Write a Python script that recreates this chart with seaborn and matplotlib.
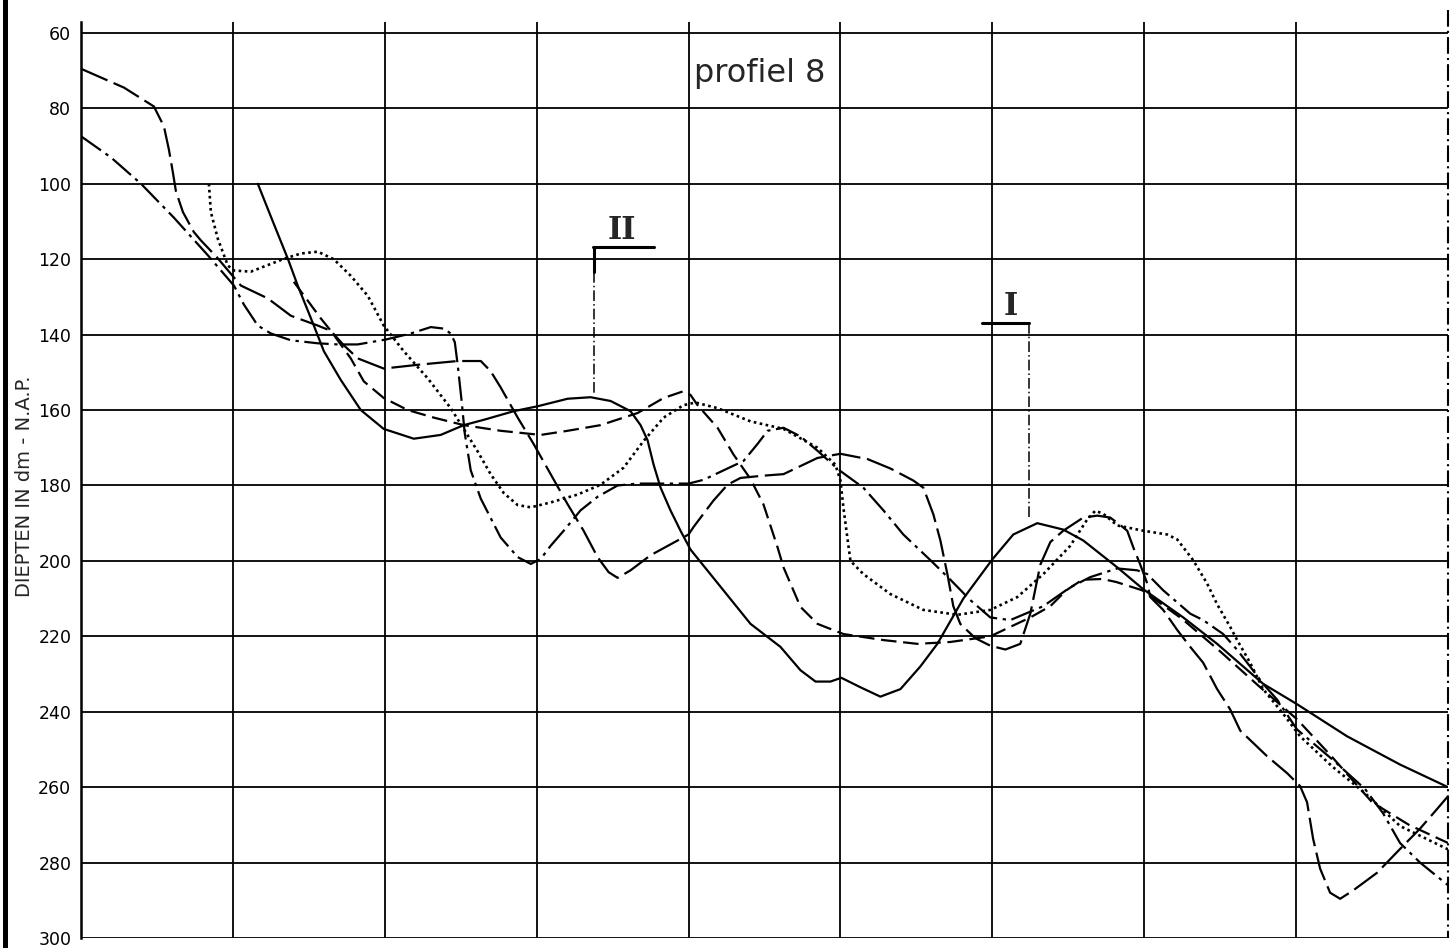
import matplotlib
matplotlib.use("Agg")
import matplotlib.pyplot as plt
from matplotlib.lines import Line2D
import seaborn as sns

sns.set_style("white")
plt.rcParams["font.family"] = ["DejaVu Sans"]

# Afstand langs het profiel (raster om de 100) en diepte in dm t.o.v. N.A.P.
afstand_doorgetrokken = [116.4, 126.3, 136.2, 142.7, 153.3, 159.9, 171.0, 184.2, 199.3, 219.1,
                         236.8, 252.0, 265.1, 284.9, 300.6, 320.4, 335.5, 348.7, 361.8, 368.4,
                         373.0, 377.0, 381.6, 388.1, 394.7, 401.3, 440.8, 460.5, 473.7, 483.6,
                         493.4, 500.6, 513.1, 526.3, 539.5, 552.6, 563.8, 580.9, 600.0, 613.8,
                         629.6, 646.7, 659.9, 682.2, 699.3, 725.7, 748.0, 778.3, 800.6, 833.5,
                         868.4, 900]
diepte_doorgetrokken = [100, 110, 119.9, 127, 137.6, 144.4, 152, 160, 165, 167.6,
                        166.6, 164, 162.6, 160.3, 159, 157, 156.6, 157.6, 160.3, 164,
                        168, 174.5, 180.6, 186.6, 192, 197, 216.7, 222.8, 229, 232,
                        232, 231, 233.5, 236, 234, 228, 222, 210, 199.6, 193,
                        190, 191.7, 194.6, 201.7, 207.5, 215, 222, 232.6, 238, 246.5,
                        254, 260]

afstand_lang = [0, 28.3, 48.0, 54.6, 57.9, 60.5, 62.5, 67.1, 74.3, 78.9,
                89.5, 100.0, 105.3, 123.0, 138.2, 155.9, 164.5, 173.0, 182.2, 199.3,
                221.7, 248.0, 263.2, 269.7, 276.3, 287.5, 298.0, 309.2, 320.4, 330.9,
                340.1, 347.4, 353.3, 361.8, 375.0, 388.2, 400.0, 403.3, 416.4, 425.7,
                434.2, 449.3, 462.5, 484.9, 500.0, 517.8, 532.9, 548.0, 554.6, 561.2,
                565.8, 570.4, 574.3, 578.9, 588.8, 598.7, 608.6, 618.4, 625.0, 631.6,
                638.2, 646.7, 659.9, 669.1, 677.6, 684.2, 688.8, 692.8, 697.4, 702.0,
                704.0, 712.5, 721.7, 730.3, 738.8, 748.0, 756.6, 763.2, 780.9, 794.1,
                802.6, 807.2, 811.2, 815.8, 822.4, 829.0, 837.5, 853.3, 868.4, 881.6,
                892.8, 900]
diepte_lang = [69.5, 74.5, 79.5, 84.8, 91, 97, 102, 107.5, 112.8, 115,
               119.5, 124.5, 127, 130.4, 135, 137.6, 139, 142.8, 146.3, 149,
               148, 147, 147, 149.7, 154, 162, 169, 177, 185, 192,
               199, 203, 204.5, 202.5, 198.5, 195.6, 193, 191, 184, 179.8,
               178, 177.4, 177, 172.7, 171.6, 173, 175.5, 178.7, 180.6, 187.7,
               194.6, 203.5, 212, 216.7, 220.5, 222.5, 223.5, 222, 214, 201,
               195, 192, 188.5, 188, 188.5, 190.5, 192, 196.4, 201, 206,
               209.6, 213, 218.3, 222.8, 227, 234, 239.4, 245, 251.8, 256.3,
               259.7, 264, 273.7, 281.6, 288, 289.6, 287.4, 282.7, 276.4, 271,
               265.8, 262.4]

afstand_streep = [140.1, 149.3, 157.9, 164.5, 177.6, 186.2, 199.3, 215.1, 232.2, 252.0,
                  276.3, 302.6, 320.4, 342.1, 366.4, 383.6, 396.7, 401.3, 405.9, 419.1,
                  429.6, 440.8, 449.3, 458.6, 462.5, 473.7, 484.9, 502.0, 528.3, 550.7,
                  572.4, 598.7, 611.8, 625.0, 638.2, 648.7, 659.2, 672.4, 681.6, 698.7,
                  725.0, 750.0, 776.3, 800.6, 823.7, 850.0, 874.3, 900]
diepte_streep = [126, 131, 135.7, 139, 146.3, 152.4, 156.8, 160, 162, 164,
                 165.5, 166.6, 165.5, 164, 160.8, 156.8, 155, 156, 158.7, 164.7,
                 171.8, 178.3, 185, 196.4, 201.7, 212.2, 216.7, 219.4, 221, 222,
                 221.5, 220, 217.5, 215, 212, 207.8, 205, 204.8, 205.6, 207.8,
                 215.4, 224, 233.5, 242, 252, 264, 270, 274.8]

afstand_streepstip = [0, 19.7, 39.5, 61.2, 83.6, 100.7, 107.2, 116.4, 125.0, 138.2,
                      155.9, 169.1, 182.2, 200.7, 217.1, 230.3, 238.8, 243.4, 246.1, 248.0,
                      250.7, 252.6, 256.6, 263.2, 276.3, 287.5, 296.1, 302.6, 309.2, 317.8,
                      328.9, 340.1, 353.3, 366.4, 400.0, 409.9, 423.0, 436.2, 445.4, 452.0,
                      462.5, 473.7, 484.9, 498.7, 515.1, 528.3, 541.4, 559.2, 572.4, 585.5,
                      598.7, 611.8, 633.6, 651.3, 664.5, 682.2, 695.4, 702.0, 712.5, 730.3,
                      738.8, 752.0, 761.2, 769.7, 778.3, 787.5, 800.6, 823.7, 845.4, 857.2,
                      868.4, 881.6, 900]
diepte_streepstip = [87.4, 93, 100, 109, 119, 127, 132, 137.6, 139.7, 141.5,
                     142.3, 142.6, 142.6, 141.3, 139.7, 138, 138.4, 139.7, 142, 148,
                     158, 166, 176, 183.5, 193.8, 199, 200.8, 199.5, 196, 192,
                     186.6, 183, 180, 179.5, 179.5, 178.5, 176, 173.5, 169, 165.5,
                     164.7, 167, 170.8, 175.8, 180.6, 186.6, 193, 199.8, 205, 210.4,
                     215, 215.7, 212, 207, 204.3, 202, 202.5, 203.5, 207.8, 214,
                     215.7, 219.4, 223.6, 228, 232.6, 236.8, 244.7, 252.6, 260.5, 266.9,
                     274.8, 280, 286]

afstand_punt = [84.2, 85.5, 90.1, 96.7, 100.7, 111.8, 133.6, 144.7, 155.9, 166.4,
                177.6, 188.8, 199.3, 212.5, 228.3, 243.4, 252.0, 261.2, 269.7, 278.3,
                287.5, 296.1, 309.2, 327.0, 342.1, 357.2, 370.4, 383.6, 396.7, 404.6,
                419.1, 440.8, 462.5, 484.9, 496.7, 500.0, 502.0, 504.6, 506.6, 515.1,
                532.9, 554.6, 577.0, 598.7, 616.4, 633.6, 651.3, 662.5, 667.8, 673.0,
                682.2, 699.3, 715.1, 721.7, 732.2, 741.4, 748.0, 756.6, 761.2, 769.7,
                778.3, 791.4, 802.6, 823.7, 845.4, 868.4, 900]
diepte_punt = [100, 107.5, 114.6, 121.7, 123, 123.3, 119.9, 118.5, 118, 120,
               124.4, 129.7, 137.6, 144.4, 151.6, 159.5, 165, 171, 177, 182,
               185.2, 185.8, 184.5, 182.4, 179.8, 175.3, 168.2, 162, 158.7, 158,
               159.5, 163, 165, 170, 174.5, 178.7, 186, 194, 200, 203.5,
               208.8, 213, 214.3, 213, 209.6, 203.5, 196, 189, 186.7, 187.5,
               190.6, 192, 193, 194.3, 199.8, 206, 211.5, 217.5, 221, 227,
               234, 240.5, 246.5, 254.5, 261.6, 270.3, 276.5]

diepte_ticks = list(range(60, 301, 20))
afstand_raster = list(range(0, 901, 100))

# lijnstijl en dikte per profiel (streepjes in lijndiktes)
profielen = [
    (afstand_doorgetrokken, diepte_doorgetrokken, "-", 1.6),
    (afstand_lang, diepte_lang, (0, (13, 3)), 1.6),
    (afstand_streep, diepte_streep, (0, (7, 3)), 1.6),
    (afstand_streepstip, diepte_streepstip, (0, (11, 2.5, 1.5, 2.5)), 1.6),
    (afstand_punt, diepte_punt, (0, (1, 1.3)), 1.9),
]

fig = plt.figure(figsize=(14.55, 9.48), dpi=100)
ax = fig.add_axes([81 / 1455, 10 / 948, 1367 / 1455, 916 / 948])
ax.set_xlim(0, 900)
ax.set_ylim(300, 57.1)

grid_kw = dict(color="black", lw=1.3, zorder=1)
for d in diepte_ticks:
    ax.axhline(d, **grid_kw)
for a in afstand_raster[1:-1]:
    ax.axvline(a, **grid_kw)
ax.plot([900, 900], [54, 300], color="black", lw=1.5,
        linestyle=(0, (8, 2, 1, 2)), clip_on=False, zorder=1)

for afstand, diepte, stijl, dikte in profielen:
    sns.lineplot(x=afstand, y=diepte, ax=ax, color="black", lw=dikte,
                 linestyle=stijl, sort=False, estimator=None, zorder=3)

for side in ("top", "right", "bottom"):
    ax.spines[side].set_visible(False)
ax.spines["left"].set_linewidth(1.8)
ax.spines["left"].set_color("black")

ax.set_xticks([])
ax.set_yticks(diepte_ticks)
ax.set_yticklabels([str(d) for d in diepte_ticks])
ax.tick_params(axis="y", length=0, pad=7, labelsize=12.5, labelcolor="black")
ax.set_xlabel("")
ax.set_ylabel("")

ax.text(403.3, 72.9, "profiel 8", fontsize=23, ha="left", va="baseline")

# Merktekens II en I met hun verwijzingslijnen
ax.text(355.9, 114.6, "II", fontsize=22, ha="center", va="baseline",
        family=["DejaVu Serif"], weight="bold")
ax.plot([336.8, 377.0], [116.7, 116.7], color="black", lw=2.2, zorder=2)
ax.plot([337.5, 337.5], [116.7, 123.5], color="black", lw=2.2, zorder=2)
ax.plot([337.5, 337.5], [123.5, 156], color="black", lw=1.1,
        linestyle=(0, (7, 2, 1, 2)), zorder=2)

ax.text(611.8, 134.9, "I", fontsize=22, ha="center", va="baseline",
        family=["DejaVu Serif"], weight="bold")
ax.plot([593.4, 624.3], [136.8, 136.8], color="black", lw=2.2, zorder=2)
ax.plot([624.3, 624.3], [136.8, 188.5], color="black", lw=1.1,
        linestyle=(0, (7, 2, 1, 2)), zorder=2)

fig.text(25 / 1455, 1 - 486 / 948, "DIEPTEN IN dm - N.A.P.", rotation=90,
         ha="center", va="center", fontsize=14)

# Rand van het blad
fig.add_artist(Line2D([4.5 / 1455, 4.5 / 1455], [0, 1], lw=3.6, color="black",
                      transform=fig.transFigure))

fig.savefig("out.png", dpi=100, facecolor="white")
